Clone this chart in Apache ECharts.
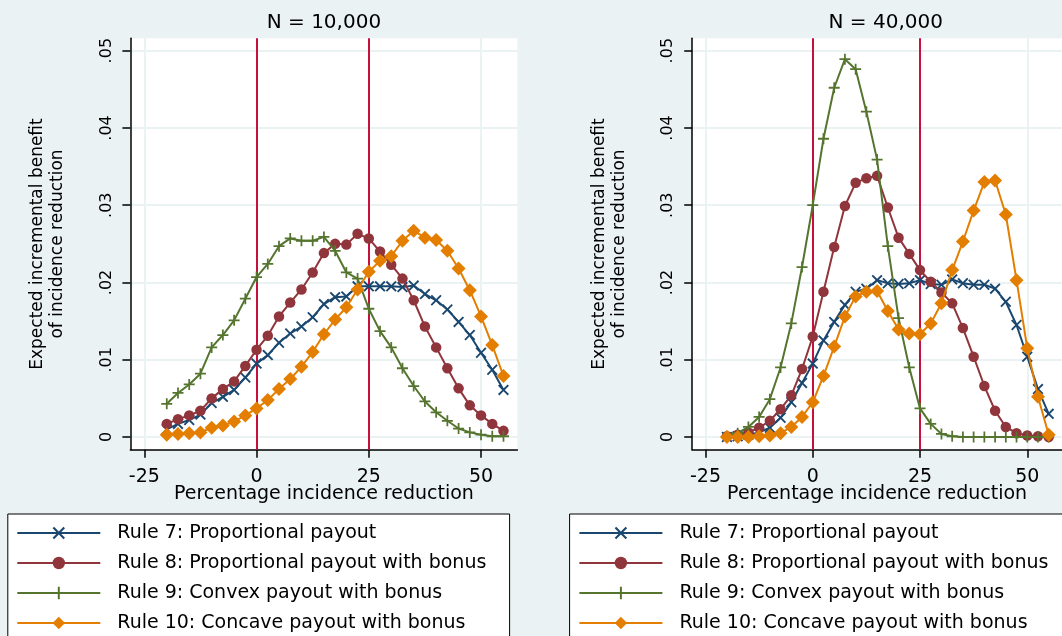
<!DOCTYPE html>
<html>
<head>
<meta charset="utf-8">
<script src="https://cdn.jsdelivr.net/npm/echarts@6/dist/echarts.min.js"></script>
<style>
html,body{margin:0;padding:0;background:#eaf2f3;}
#main{width:1062px;height:636px;}
</style>
</head>
<body>
<div id="main"></div>
<script>
/********** data **********/
var xValues = [-20,-17.5,-15,-12.5,-10,-7.5,-5,-2.5,0,2.5,5,7.5,10,12.5,15,17.5,20,22.5,25,27.5,30,32.5,35,37.5,40,42.5,45,47.5,50,52.5,55];

// N = 10,000
var rule7A = [0.0010,0.0017,0.0022,0.0029,0.0044,0.0052,0.0061,0.0077,0.0095,0.0106,0.0122,0.0134,0.0143,0.0155,0.0172,0.0181,0.0182,0.0195,0.0195,0.0195,0.0195,0.0194,0.0196,0.0185,0.0177,0.0165,0.0149,0.0132,0.0109,0.0087,0.0061];
var rule8A = [0.0017,0.0023,0.0028,0.0034,0.0050,0.0062,0.0072,0.0092,0.0113,0.0131,0.0156,0.0174,0.0191,0.0213,0.0238,0.0250,0.0249,0.0263,0.0257,0.0240,0.0223,0.0205,0.0177,0.0143,0.0116,0.0089,0.0063,0.0041,0.0028,0.0017,0.0008];
var rule9A = [0.0043,0.0057,0.0068,0.0082,0.0116,0.0132,0.0151,0.0179,0.0207,0.0224,0.0247,0.0257,0.0254,0.0254,0.0259,0.0241,0.0213,0.0205,0.0166,0.0137,0.0116,0.0089,0.0066,0.0046,0.0032,0.0021,0.0011,0.0006,0.0003,0.0001,0.0001];
var rule10A = [0.0003,0.0004,0.0005,0.0006,0.0012,0.0015,0.0020,0.0028,0.0037,0.0048,0.0062,0.0075,0.0091,0.0110,0.0133,0.0152,0.0168,0.0191,0.0214,0.0228,0.0234,0.0254,0.0267,0.0258,0.0255,0.0241,0.0218,0.0190,0.0156,0.0119,0.0079];

// N = 40,000
var rule7B = [0.0000,0.0001,0.0003,0.0006,0.0012,0.0025,0.0045,0.0070,0.0095,0.0125,0.0149,0.0171,0.0188,0.0192,0.0203,0.0199,0.0198,0.0199,0.0203,0.0198,0.0197,0.0204,0.0199,0.0197,0.0197,0.0192,0.0175,0.0145,0.0104,0.0062,0.0030];
var rule8B = [0.0001,0.0003,0.0006,0.0012,0.0021,0.0036,0.0054,0.0088,0.0130,0.0188,0.0246,0.0299,0.0329,0.0335,0.0338,0.0297,0.0258,0.0237,0.0216,0.0201,0.0187,0.0173,0.0141,0.0104,0.0066,0.0034,0.0013,0.0005,0.0002,0.0001,0.0000];
var rule9B = [0.0001,0.0005,0.0013,0.0026,0.0049,0.0090,0.0147,0.0220,0.0300,0.0386,0.0452,0.0489,0.0476,0.0421,0.0359,0.0247,0.0154,0.0090,0.0037,0.0017,0.0004,0.0001,0.0000,0,0,0,0,0,0,0,0];
var rule10B = [0,0,0,0.0001,0.0002,0.0005,0.0013,0.0026,0.0045,0.0079,0.0117,0.0156,0.0182,0.0188,0.0189,0.0163,0.0139,0.0134,0.0133,0.0147,0.0173,0.0216,0.0253,0.0293,0.0330,0.0332,0.0288,0.0203,0.0115,0.0052,0.0003];

var ruleNames = ['Rule 7: Proportional payout','Rule 8: Proportional payout with bonus','Rule 9: Convex payout with bonus','Rule 10: Concave payout with bonus'];
var panelTitles = ['N = 10,000','N = 40,000'];
var xTicks = [-25,0,25,50];
var yTicks = [0,0.01,0.02,0.03,0.04,0.05];
var yTickLabels = ['0','.01','.02','.03','.04','.05'];
var refLines = [0,25];

/********** style **********/
var FONT = 'DejaVu Sans';
var colors = ['#1a476f','#90353b','#55752f','#e37e00'];
var xMark = 'path://M0,1.2L1.2,0L5,3.8L8.8,0L10,1.2L6.2,5L10,8.8L8.8,10L5,6.2L1.2,10L0,8.8L3.8,5Z';
var plusMark = 'path://M4.2,0H5.8V4.2H10V5.8H5.8V10H4.2V5.8H0V4.2H4.2Z';
var symbols = [xMark,'circle',plusMark,'diamond'];
var symSizes = [11,10.5,11,14];

var gridLefts = [130.4,692.2];

function makeXAxis(i){
  return {
    type:'value', gridIndex:i, min:-28.1, max:58.1,
    name:'Percentage incidence reduction', nameLocation:'middle', nameGap:35, nameMoveOverlap:false,
    nameTextStyle:{fontFamily:FONT,fontSize:19,color:'#000'},
    axisLine:{show:true,onZero:false,lineStyle:{color:'#000',width:1.5}},
    axisTick:{show:true,length:8,customValues:xTicks,lineStyle:{color:'#000',width:1.5}},
    axisLabel:{customValues:xTicks,margin:18,fontFamily:FONT,fontSize:19,color:'#000'},
    splitLine:{show:true,lineStyle:{color:'#eaf2f3',width:2}}
  };
}
function makeYAxis(i){
  return {
    type:'value', gridIndex:i, min:-0.00164, max:0.0516,
    name:'Expected incremental benefit\nof incidence reduction', nameLocation:'middle', nameGap:63, nameMoveOverlap:false,
    nameTextStyle:{fontFamily:FONT,fontSize:17,lineHeight:20,color:'#000'},
    axisLine:{show:true,onZero:false,lineStyle:{color:'#000',width:1.5}},
    axisTick:{show:true,length:8,customValues:yTicks,lineStyle:{color:'#000',width:1.5}},
    axisLabel:{customValues:yTicks,rotate:90,margin:16,fontFamily:FONT,fontSize:16,color:'#000',
      formatter:function(v){
        for(var k=0;k<yTicks.length;k++){ if(Math.abs(yTicks[k]-v)<1e-6) return yTickLabels[k]; }
        return '';
      }},
    splitLine:{show:true,lineStyle:{color:'#eaf2f3',width:2}}
  };
}

function makeSeries(k, values, gi){
  var s = {
    name:ruleNames[k], type:'line', xAxisIndex:gi, yAxisIndex:gi,
    data:xValues.map(function(x,j){return [x,values[j]];}),
    symbol:symbols[k], symbolSize:symSizes[k], showAllSymbol:true,
    lineStyle:{color:colors[k],width:2},
    itemStyle:{color:colors[k]},
    emphasis:{disabled:true},
    z:3+k, animation:false
  };
  if(k===0){
    s.markLine = {
      silent:true, z:1, symbol:'none', label:{show:false}, animation:false,
      lineStyle:{color:'#c7103c',width:2,type:'solid'},
      data:refLines.map(function(v){return {xAxis:v};})
    };
  }
  return s;
}

var seriesList = [];
[rule7A,rule8A,rule9A,rule10A].forEach(function(v,k){ seriesList.push(makeSeries(k,v,0)); });
[rule7B,rule8B,rule9B,rule10B].forEach(function(v,k){ seriesList.push(makeSeries(k,v,1)); });

function makeLegend(left){
  return {
    orient:'vertical', left:left, top:522, height:130, padding:0,
    itemWidth:83, itemHeight:15.5, itemGap:8,
    selectedMode:false, data:ruleNames,
    textStyle:{fontFamily:FONT,fontSize:19,color:'#000',lineHeight:22,padding:[0,0,0,12]}
  };
}

var myChart = echarts.init(document.getElementById('main'));
var option = {
  backgroundColor:'#eaf2f3',
  animation:false,
  grid:[
    {left:gridLefts[0],top:38.3,width:387,height:411.4,show:true,backgroundColor:'#fff',borderWidth:0},
    {left:gridLefts[1],top:38.3,width:387,height:411.4,show:true,backgroundColor:'#fff',borderWidth:0}
  ],
  xAxis:[makeXAxis(0),makeXAxis(1)],
  yAxis:[makeYAxis(0),makeYAxis(1)],
  legend:[makeLegend(16.3),makeLegend(578.4)],
  graphic:[
    {type:'rect',z:0,shape:{x:7.8,y:514,width:501.8,height:140},style:{fill:'#fff',stroke:'#000',lineWidth:1}},
    {type:'rect',z:0,shape:{x:569.6,y:514,width:520,height:140},style:{fill:'#fff',stroke:'#000',lineWidth:1}},
    {type:'text',x:gridLefts[0]+193.5,y:23,style:{text:panelTitles[0],align:'center',verticalAlign:'middle',fontFamily:FONT,fontSize:20,fill:'#000'}},
    {type:'text',x:gridLefts[1]+193.5,y:23,style:{text:panelTitles[1],align:'center',verticalAlign:'middle',fontFamily:FONT,fontSize:20,fill:'#000'}}
  ],
  series:seriesList
};
myChart.setOption(option);
</script>
</body>
</html>
